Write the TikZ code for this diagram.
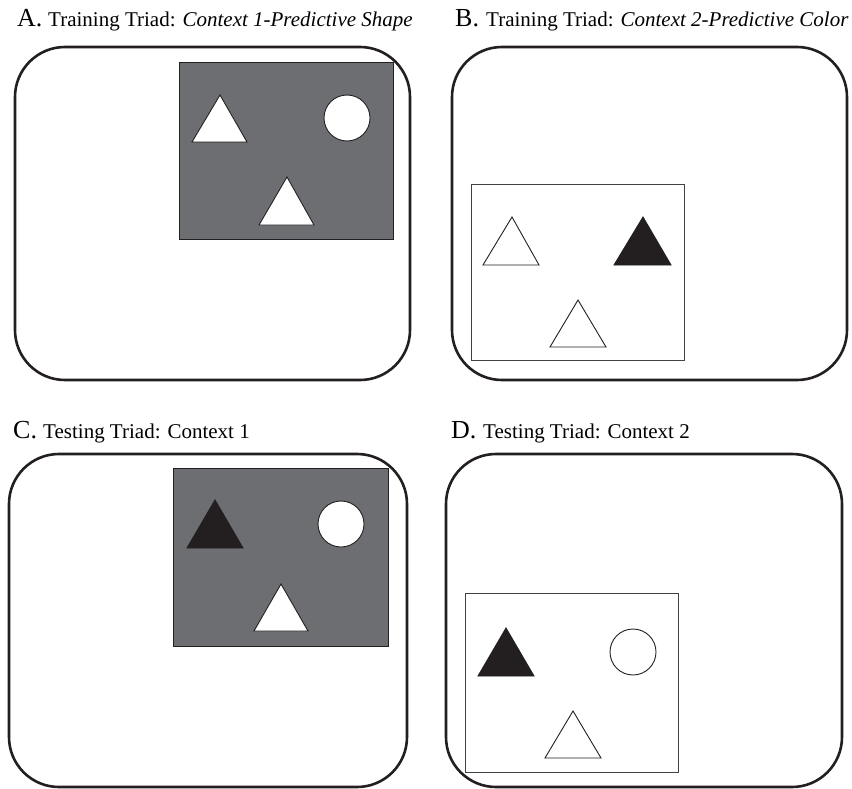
\documentclass[tikz,border=0pt]{standalone}
\usepackage{fontspec}
\setmainfont{Liberation Serif}
\definecolor{panelgray}{HTML}{6D6E71}
\definecolor{nearblack}{HTML}{231F20}
\begin{document}
\begin{tikzpicture}[x=1pt,y=-1pt,
  outer/.style={draw=nearblack,line width=2.6pt,rounded corners=50pt},
  inner/.style={draw=nearblack!85,line width=0.9pt},
  shp/.style={draw=nearblack,line width=0.9pt,line join=miter},
  lbl/.style={anchor=base west,inner sep=0pt,font=\fontsize{21}{24}\selectfont},
  letter/.style={anchor=base west,inner sep=0pt,font=\fontsize{26}{30}\selectfont}]
\useasboundingbox (0,0) rectangle (852,789);
% Labels
\node[letter] (la) at (17,27) {A.};
\node[lbl] (ta) at (48,27) {Training Triad: \textit{Context 1-Predictive Shape}};
\node[letter] (lb) at (455,27) {B.};
\node[lbl] (tb) at (486,27) {Training Triad: \textit{Context 2-Predictive Color}};
\node[letter] (lc) at (13,438) {C.};
\node[lbl] (tc) at (43,438) {Testing Triad: Context 1};
\node[letter] (ld) at (451,438) {D.};
\node[lbl] (td) at (483,438) {Testing Triad: Context 2};
% Panel A
\draw[outer] (15,47) rectangle (410,380);
\draw[shp,fill=panelgray] (179,62) rectangle (393,239);
\draw[shp,fill=white] (192,142) -- (220,95) -- (247,142) -- cycle;
\draw[shp,fill=white] (347,118) circle (23);
\draw[shp,fill=white] (259,225) -- (287,177) -- (314,225) -- cycle;
% Panel B
\draw[outer] (452,47) rectangle (847,380);
\draw[inner] (471,184) rectangle (684,360);
\draw[shp,fill=white] (483,265) -- (512,217) -- (539,265) -- cycle;
\draw[shp,fill=nearblack] (614,265) -- (643,217) -- (671,265) -- cycle;
\draw[shp,fill=white] (550,347) -- (578,300) -- (606,347) -- cycle;
% Panel C
\draw[outer] (9,454) rectangle (407,787);
\draw[shp,fill=panelgray] (173,468) rectangle (388,646);
\draw[shp,fill=nearblack] (187,548) -- (215,500) -- (243,548) -- cycle;
\draw[shp,fill=white] (341,524) circle (23);
\draw[shp,fill=white] (254,631) -- (281,584) -- (308,631) -- cycle;
% Panel D
\draw[outer] (446,454) rectangle (842,787);
\draw[inner] (465,593) rectangle (678,772);
\draw[shp,fill=nearblack] (478,676) -- (506,628) -- (534,676) -- cycle;
\draw[shp] (633,652) circle (23);
\draw[shp,fill=white] (545,758) -- (573,711) -- (601,758) -- cycle;
\end{tikzpicture}
\end{document}
